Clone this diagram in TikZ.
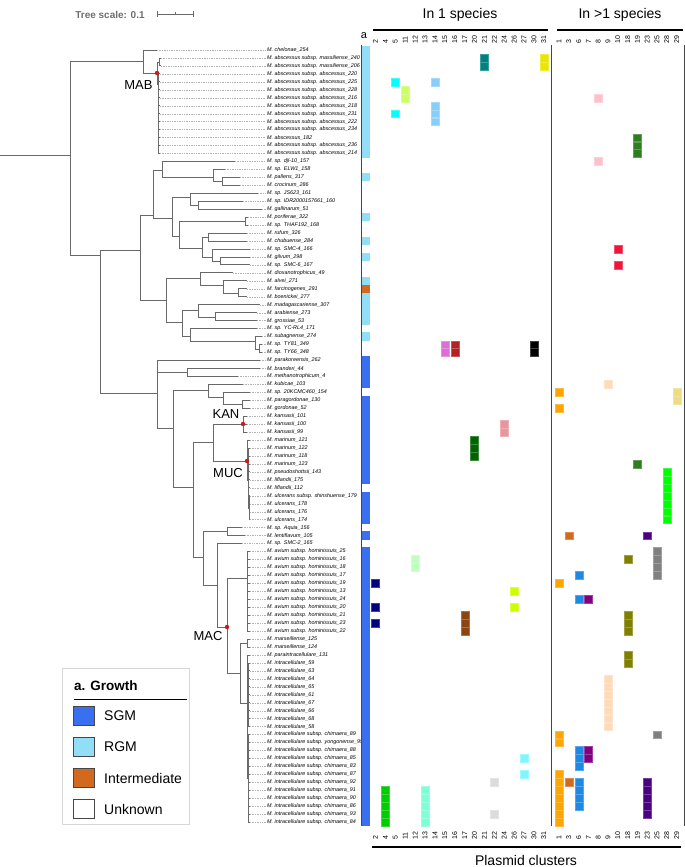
\documentclass[tikz,border=0pt]{standalone}
\usepackage{fontspec}
\setmainfont{Liberation Sans}
\definecolor{sgm}{RGB}{58,112,240}
\definecolor{rgm}{RGB}{145,222,246}
\definecolor{inter}{RGB}{210,105,30}
\definecolor{cteal}{RGB}{0,128,128}
\definecolor{cyel}{RGB}{235,230,0}
\definecolor{ccyn}{RGB}{0,255,255}
\definecolor{clsb}{RGB}{135,206,250}
\definecolor{cygl}{RGB}{204,255,102}
\definecolor{corc}{RGB}{218,112,214}
\definecolor{cfbr}{RGB}{178,34,34}
\definecolor{crosy}{RGB}{232,150,155}
\definecolor{cdgr}{RGB}{0,100,0}
\definecolor{cmint}{RGB}{193,255,193}
\definecolor{cnav}{RGB}{0,0,128}
\definecolor{clime}{RGB}{204,255,0}
\definecolor{cbrn}{RGB}{139,69,19}
\definecolor{clcy}{RGB}{128,244,255}
\definecolor{clgry}{RGB}{220,220,220}
\definecolor{cgrn}{RGB}{0,205,0}
\definecolor{caqm}{RGB}{127,255,212}
\definecolor{cpnk}{RGB}{255,192,203}
\definecolor{cfgr}{RGB}{46,125,30}
\definecolor{crd}{RGB}{240,20,60}
\definecolor{cpch}{RGB}{255,218,185}
\definecolor{corg}{RGB}{255,165,0}
\definecolor{ckhk}{RGB}{238,220,130}
\definecolor{cbright}{RGB}{0,255,0}
\definecolor{cchoc}{RGB}{210,105,30}
\definecolor{cind}{RGB}{75,0,130}
\definecolor{cgry}{RGB}{128,128,128}
\definecolor{colv}{RGB}{128,128,0}
\definecolor{cdbl}{RGB}{30,136,229}
\definecolor{cpur}{RGB}{128,0,128}
\definecolor{treec}{RGB}{105,105,105}
\definecolor{leadc}{RGB}{178,178,178}
\definecolor{frame}{RGB}{70,70,70}
\definecolor{dotc}{RGB}{205,25,25}
\newcommand{\hc}[3]{\filldraw[fill=#3, draw=#3!75!white, line width=0.2pt] ({#1-4},{46.1+7.96*(#2-1)}) rectangle ({#1+4},{53.9+7.96*(#2-1)});}
\newcommand{\cA}[3]{\foreach \rr in {#2}{\hc{375.5+9.9*#1}{\rr}{#3}}}
\newcommand{\cB}[3]{\foreach \rr in {#2}{\hc{559+9.8*#1}{\rr}{#3}}}
\newcommand{\gc}[2]{\fill[#2] (362,{45.9+7.96*(#1-1)}) rectangle (370,{54.1+7.96*(#1-1)});}
\begin{document}
\begin{tikzpicture}[x=1pt,y=-1pt,
  tree/.style={draw=treec, line width=0.85pt},
  lead/.style={draw=leadc, line width=0.35pt, dash pattern=on 1.3pt off 1.1pt},
  leaf/.style={anchor=west, inner sep=0pt, font=\fontsize{5.4}{6}\selectfont\itshape},
  clade/.style={inner sep=0pt, font=\fontsize{13}{15}\selectfont},
  num/.style={rotate=90, anchor=west, inner sep=0pt, font=\fontsize{7}{8}\selectfont},
  hdr/.style={inner sep=0pt, font=\fontsize{14}{16}\selectfont},
  bar/.style={line width=1.8pt, black},
  sep/.style={draw=frame, line width=0.8pt},
  legtxt/.style={anchor=west, inner sep=0pt, font=\fontsize{14}{16}\selectfont},
  legsq/.style={draw=frame, line width=0.5pt, minimum width=21pt, minimum height=19pt, inner sep=0pt}
]
\useasboundingbox (0,0) rectangle (685,867);
% ---------------- tree scale
\node[inner sep=0pt, font=\fontsize{10}{12}\selectfont\bfseries, text={rgb,255:red,110;green,110;blue,110}] (ts) at (110,15) {Tree scale: 0.1};
\coordinate (sb1) at (157,14); \coordinate (sb2) at (193,14);
\draw[draw=treec, line width=0.7pt] (sb1) -- (sb2);
\draw[draw=treec, line width=0.7pt] (157,11) -- (157,17) (193,11) -- (193,17) (175,12.5) -- (175,15.5);
% ---------------- leaves
\foreach \i/\tx/\nm in {
1/157/{M. chelonae\_254},
2/161/{M. abscessus subsp. massiliense\_240},
3/161/{M. abscessus subsp. massiliense\_206},
4/160/{M. abscessus subsp. abscessus\_220},
5/160/{M. abscessus subsp. abscessus\_225},
6/160/{M. abscessus subsp. abscessus\_228},
7/160/{M. abscessus subsp. abscessus\_216},
8/160/{M. abscessus subsp. abscessus\_218},
9/160/{M. abscessus subsp. abscessus\_231},
10/160/{M. abscessus subsp. abscessus\_222},
11/160/{M. abscessus subsp. abscessus\_234},
12/160/{M. abscessus\_182},
13/160/{M. abscessus subsp. abscessus\_236},
14/160/{M. abscessus subsp. abscessus\_214},
15/235/{M. sp. djl-10\_157},
16/225/{M. sp. ELW1\_158},
17/240/{M. pallens\_317},
18/240/{M. crocinum\_286},
19/258/{M. sp. JS623\_161},
20/243/{M. sp. IDR2000157661\_160},
21/262/{M. gallinarum\_51},
22/248/{M. poriferae\_322},
23/248/{M. sp. THAF192\_168},
24/247/{M. rufum\_326},
25/247/{M. chubuense\_284},
26/250/{M. sp. SMC-4\_166},
27/250/{M. gilvum\_298},
28/250/{M. sp. SMC-6\_167},
29/233/{M. dioxanotrophicus\_49},
30/247/{M. alvei\_271},
31/247/{M. farcinogenes\_291},
32/247/{M. boenickei\_277},
33/260/{M. madagascariense\_307},
34/257/{M. arabiense\_273},
35/257/{M. grossiae\_53},
36/257/{M. sp. YC-RL4\_171},
37/262/{M. subagnense\_274},
38/262/{M. sp. TY81\_349},
39/262/{M. sp. TY66\_348},
40/260/{M. parakoreensis\_262},
41/260/{M. branderi\_44},
42/238/{M. methanotrophicum\_4},
43/243/{M. kubicae\_103},
44/250/{M. sp. 20KCMC460\_154},
45/250/{M. paragordonae\_130},
46/250/{M. gordonae\_52},
47/247/{M. kansasii\_101},
48/247/{M. kansasii\_100},
49/247/{M. kansasii\_99},
50/250/{M. marinum\_121},
51/250/{M. marinum\_122},
52/250/{M. marinum\_118},
53/250/{M. marinum\_123},
54/250/{M. pseudoshottsii\_143},
55/250/{M. liflandii\_175},
56/250/{M. liflandii\_112},
57/250/{M. ulcerans subsp. shinshuense\_179},
58/250/{M. ulcerans\_178},
59/250/{M. ulcerans\_176},
60/250/{M. ulcerans\_174},
61/242/{M. sp. Aquia\_156},
62/245/{M. lentiflavum\_105},
63/242/{M. sp. SMC-2\_165},
64/250/{M. avium subsp. hominissuis\_25},
65/250/{M. avium subsp. hominissuis\_16},
66/250/{M. avium subsp. hominissuis\_18},
67/250/{M. avium subsp. hominissuis\_17},
68/250/{M. avium subsp. hominissuis\_19},
69/250/{M. avium subsp. hominissuis\_13},
70/250/{M. avium subsp. hominissuis\_24},
71/250/{M. avium subsp. hominissuis\_20},
72/250/{M. avium subsp. hominissuis\_21},
73/250/{M. avium subsp. hominissuis\_23},
74/250/{M. avium subsp. hominissuis\_22},
75/250/{M. marseillense\_125},
76/250/{M. marseillense\_124},
77/250/{M. paraintracellulare\_131},
78/250/{M. intracellulare\_59},
79/250/{M. intracellulare\_63},
80/250/{M. intracellulare\_64},
81/250/{M. intracellulare\_65},
82/250/{M. intracellulare\_61},
83/250/{M. intracellulare\_67},
84/250/{M. intracellulare\_66},
85/250/{M. intracellulare\_68},
86/250/{M. intracellulare\_58},
87/250/{M. intracellulare subsp. chimaera\_89},
88/250/{M. intracellulare subsp. yongonense\_95},
89/250/{M. intracellulare subsp. chimaera\_88},
90/250/{M. intracellulare subsp. chimaera\_85},
91/250/{M. intracellulare subsp. chimaera\_83},
92/250/{M. intracellulare subsp. chimaera\_87},
93/250/{M. intracellulare subsp. chimaera\_92},
94/250/{M. intracellulare subsp. chimaera\_91},
95/250/{M. intracellulare subsp. chimaera\_90},
96/250/{M. intracellulare subsp. chimaera\_86},
97/250/{M. intracellulare subsp. chimaera\_93},
98/250/{M. intracellulare subsp. chimaera\_84}}{
  \coordinate (L\i) at (\tx,{50+7.96*(\i-1)});
  \node[leaf] (T\i) at (267,{50+7.96*(\i-1)}) {\nm};
  \draw[lead] (L\i) -- ([xshift=-1.5pt]T\i.west);
}
% ---------------- internal nodes
\coordinate (R0) at (0,155);
\coordinate (R) at (70,155);
\coordinate (MABp) at (143,61);
\coordinate (ABS) at (157,73);
\coordinate (MAS) at (159,62);
\coordinate (ABSb) at (158.5,84);
\coordinate (NM) at (100,255);
\coordinate (RG) at (140,250);
\coordinate (RGa) at (153,215);
\coordinate (Aa) at (162,170);
\coordinate (Ab) at (213,177);
\coordinate (Ac) at (222,181);
\coordinate (Ad) at (172,218);
\coordinate (Ba) at (190,197);
\coordinate (Bb) at (198,205);
\coordinate (Bc) at (179,236);
\coordinate (Bd) at (245,221);
\coordinate (Be) at (202,248);
\coordinate (Bf) at (208,237);
\coordinate (Bg) at (212,257);
\coordinate (Bh) at (220,261);
\coordinate (RGb) at (166,300);
\coordinate (Ca) at (200,278);
\coordinate (Cb) at (223,285);
\coordinate (Cc) at (238,293);
\coordinate (Cd) at (182,322);
\coordinate (Ce) at (198,310);
\coordinate (Cf) at (215,317);
\coordinate (Cg) at (190,336);
\coordinate (Ch) at (255,341);
\coordinate (Ci) at (259,349);
\coordinate (SG) at (157,393);
\coordinate (Ea) at (187,372);
\coordinate (SGb) at (173,428);
\coordinate (Fa) at (208,390);
\coordinate (Fb) at (223,397);
\coordinate (Fc) at (242,404);
\coordinate (G) at (193,487);
\coordinate (Fd) at (213,442);
\coordinate (KAN) at (243,424);
\coordinate (MUC) at (247,461);
\coordinate (Ma) at (248.5,480);
\coordinate (Mb) at (249,508);
\coordinate (H) at (203,557);
\coordinate (AL) at (227,531);
\coordinate (SM) at (217,585);
\coordinate (MAC) at (227,627);
\coordinate (AV) at (247,578);
\coordinate (MI) at (240,673);
\coordinate (MS) at (247,643);
\coordinate (MIb) at (247,703);
\coordinate (INT) at (248,690);
\coordinate (CH) at (248,778);
% ---------------- branches
\draw[tree] (R0) -- (R);
\foreach \p/\c in {R/MABp,R/NM,MABp/L1,MABp/ABS,ABS/MAS,ABS/ABSb,MAS/L2,MAS/L3,
  NM/RG,NM/SG,RG/RGa,RG/RGb,RGa/Aa,RGa/Ad,Aa/L15,Aa/Ab,Ab/L16,Ab/Ac,Ac/L17,Ac/L18,
  Ad/Ba,Ad/Bc,Ba/L19,Ba/Bb,Bb/L20,Bb/L21,Bc/Bd,Bc/Be,Bd/L22,Bd/L23,Be/Bf,Be/Bg,
  Bf/L24,Bf/L25,Bg/L26,Bg/Bh,Bh/L27,Bh/L28,
  RGb/Ca,RGb/Cd,Ca/L29,Ca/Cb,Cb/L30,Cb/Cc,Cc/L31,Cc/L32,Cd/Ce,Cd/Cg,Ce/L33,Ce/Cf,
  Cf/L34,Cf/L35,Cg/L36,Cg/Ch,Ch/L37,Ch/Ci,Ci/L38,Ci/L39,
  SG/L40,SG/Ea,SG/SGb,Ea/L41,Ea/L42,SGb/Fa,SGb/G,Fa/L43,Fa/Fb,Fb/L44,Fb/Fc,Fc/L45,Fc/L46,
  G/Fd,G/H,Fd/KAN,Fd/MUC,KAN/L47,KAN/L48,KAN/L49,MUC/L50,MUC/Ma,Ma/Mb,
  H/AL,H/SM,AL/L61,AL/L62,SM/L63,SM/MAC,MAC/AV,MAC/MI,MI/MS,MI/MIb,MS/L75,MS/L76,
  MIb/L77,MIb/INT,MIb/CH}
  {\draw[tree] (\p) |- (\c);}
\foreach \c in {4,...,14} {\draw[tree] (ABSb) |- (L\c);}
\foreach \c in {51,...,56} {\draw[tree] (Ma) |- (L\c);}
\foreach \c in {57,...,60} {\draw[tree] (Mb) |- (L\c);}
\foreach \c in {64,...,74} {\draw[tree] (AV) |- (L\c);}
\foreach \c in {78,...,86} {\draw[tree] (INT) |- (L\c);}
\foreach \c in {87,...,98} {\draw[tree] (CH) |- (L\c);}
% red dots and clade names
\foreach \d in {ABS,KAN,MUC,MAC} {\fill[dotc] (\d) circle (2.2pt);}
\node[clade] (lMAB) at (138.5,85) {MAB};
\node[clade] (lKAN) at (226,414) {KAN};
\node[clade] (lMUC) at (228,473) {MUC};
\node[clade] (lMAC) at (208,636) {MAC};
% ---------------- growth strip
\foreach \r in {1,2,3,4,5,6,7,8,9,10,11,12,13,14,17,22,25,27,30,32,33,34,35,37} {\gc{\r}{rgm}}
\gc{31}{inter}
\foreach \r in {40,41,42,43,45,46,47,48,49,50,51,52,53,54,55,57,58,59,60,62} {\gc{\r}{sgm}}
\foreach \r in {64,...,98} {\gc{\r}{sgm}}
% ---------------- heatmap cells: In 1 species
\cA{11}{2,3}{cteal}
\cA{17}{2,3}{cyel}
\cA{2}{5,9}{ccyn}
\cA{6}{5,8,9,10}{clsb}
\cA{3}{6,7}{cygl}
\cA{7}{38,39}{corc}
\cA{8}{38,39}{cfbr}
\cA{16}{38,39}{black}
\cA{13}{48,49}{crosy}
\cA{10}{50,51,52}{cdgr}
\cA{4}{65,66}{cmint}
\cA{0}{68,71,73}{cnav}
\cA{14}{69,71}{clime}
\cA{9}{72,73,74}{cbrn}
\cA{15}{90,92}{clcy}
\cA{12}{93,97}{clgry}
\cA{1}{94,95,96,97,98}{cgrn}
\cA{5}{94,95,96,97,98}{caqm}
% ---------------- heatmap cells: In >1 species
\cB{4}{7,15}{cpnk}
\cB{8}{12,13,14,53}{cfgr}
\cB{6}{26,28}{crd}
\cB{5}{43,80,81,82,83,84,85,86}{cpch}
\cB{0}{44,46,68,87,88,92,93,94,95,96,97,98}{corg}
\cB{12}{44,45}{ckhk}
\cB{11}{54,55,56,57,58,59,60}{cbright}
\cB{1}{62,93}{cchoc}
\cB{9}{62,93,94,95,96,97}{cind}
\cB{10}{64,65,66,67,87}{cgry}
\cB{7}{65,72,73,74,77,78}{colv}
\cB{2}{67,70,89,90,91,93,94,95,96}{cdbl}
\cB{3}{70,89,90}{cpur}
% ---------------- frame lines
\draw[sep] (361,45) -- (361,826);
\draw[sep] (551,45) -- (551,826);
\draw[sep] (684,45) -- (684,826);
% ---------------- column labels
\node[inner sep=0pt, font=\fontsize{11}{12}\selectfont] (ga) at (364,36) {a};
\foreach \lab [count=\k from 0] in {2,4,5,11,12,13,14,15,16,17,20,21,22,24,26,27,30,31}
  {\node[num] (tA\k) at ({375.5+9.9*\k},44) {\lab};
   \node[num] (bA\k) at ({375.5+9.9*\k},840) {\lab};}
\foreach \lab [count=\k from 0] in {1,3,6,7,8,9,10,18,19,23,25,28,29}
  {\node[num] (tB\k) at ({559+9.8*\k},44) {\lab};
   \node[num] (bB\k) at ({559+9.8*\k},840) {\lab};}
% ---------------- headers
\coordinate (hb1a) at (373,30); \coordinate (hb1b) at (548,30);
\coordinate (hb2a) at (557,30); \coordinate (hb2b) at (683,30);
\draw[bar] (hb1a) -- (hb1b);
\draw[bar] (hb2a) -- (hb2b);
\node[hdr] (h1) at (460,15) {In 1 species};
\node[hdr] (h2) at (620,15) {In >1 species};
\coordinate (fb1) at (372,847); \coordinate (fb2) at (681,847);
\draw[bar] (fb1) -- (fb2);
\node[hdr] (pc) at (526,860) {Plasmid clusters};
% ---------------- legend
\draw[draw={rgb,255:red,215;green,215;blue,215}, line width=0.5pt] (62,668) rectangle (189,824);
\node[anchor=west, inner sep=0pt, font=\fontsize{13.5}{15}\selectfont\bfseries] (lt) at (74,686) {a. Growth};
\draw[line width=1pt] (74,699) -- (187,699);
\node[legsq, fill=sgm] (s1) at (84,716) {};
\node[legsq, fill=rgm] (s2) at (84,747) {};
\node[legsq, fill=inter] (s3) at (84,778) {};
\node[legsq, fill=white] (s4) at (84,809) {};
\node[legtxt] (x1) at (104,716) {SGM};
\node[legtxt] (x2) at (104,747) {RGM};
\node[legtxt] (x3) at (104,778) {Intermediate};
\node[legtxt] (x4) at (104,809) {Unknown};
\end{tikzpicture}
\end{document}
